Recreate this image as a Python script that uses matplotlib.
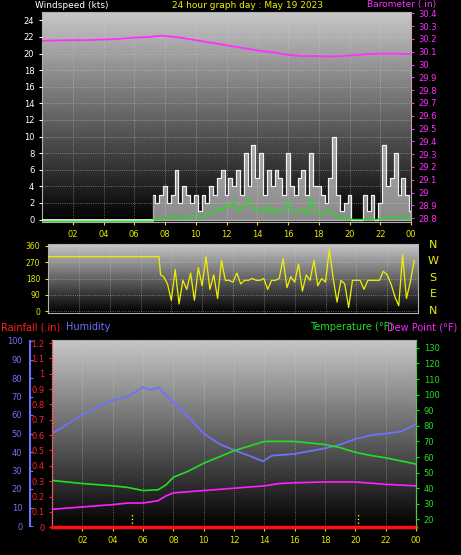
import numpy as np
import matplotlib
matplotlib.use("Agg")
import matplotlib.pyplot as plt

W, H = 461, 555
# ---------- data ----------
baro_t = [0, 1, 2, 3, 4, 5, 6, 7, 7.8, 9, 10, 11, 12, 13, 14, 15, 16, 17, 18, 19, 20, 21, 22, 23, 24]
baro_v = [30.185, 30.188, 30.19, 30.19, 30.195, 30.2, 30.21, 30.215, 30.225, 30.21, 30.19, 30.17,
          30.15, 30.13, 30.11, 30.095, 30.075, 30.065, 30.065, 30.062, 30.07, 30.08, 30.085, 30.085, 30.08]

wind_t = [7.25 + 0.25 * i for i in range(68)]
gust_v = [3, 2, 3, 4, 2, 3, 6, 2, 4, 3, 2, 3, 1, 3, 2, 4, 3, 5, 6, 3, 5, 4, 6, 3, 8, 4, 9, 5, 8, 3,
          6, 4, 6, 5, 3, 8, 4, 3, 5, 6, 3, 8, 4, 4, 3, 2, 5, 10, 3, 1, 2, 3, 0, 0, 0, 3, 1, 3, 0, 2,
          9, 4, 5, 8, 3, 5, 3, 1]
avg_v = [0, 0, 0, 0.2, 0.3, 0.3, 0.4, 0.1, 0.2, 0.1, 0.5, 0.4, 0.2, 0.3, 0.8, 0.5, 1.2, 1.5, 1.0, 1.8,
         1.6, 2.2, 1.0, 1.4, 1.8, 2.5, 1.2, 1.4, 1.0, 0.8, 1.6, 0.7, 1.2, 0.9, 1.1, 2.2, 1.0, 0.8, 1.0, 1.2,
         0.6, 2.6, 1.0, 0.8, 0.5, 1.2, 0.9, 0.8, 0.4, 0.1, 0.3, 0.1, 0, 0, 0, 0, 0, 0, 0, 0.1,
         0.2, 0.3, 0.4, 0.3, 0.2, 0.3, 0.2, 0.1]

dir_t = [0, 7.2, 7.3] + [7.5 + 0.25 * i for i in range(66)]
dir_v = [300, 300, 200, 190, 150, 60, 230, 40, 170, 120, 210, 60, 240, 140, 300, 120, 200, 70, 280, 170,
         170, 160, 210, 150, 170, 170, 180, 170, 170, 180, 120, 170, 170, 180, 290, 130, 190, 160, 260, 110,
         200, 170, 280, 140, 180, 160, 340, 180, 50, 170, 150, 20, 170, 170, 170, 120, 170, 170, 170, 170,
         220, 200, 150, 80, 30, 310, 70, 160, 280]

hum_t = [0, 2, 4, 5, 6, 6.5, 7, 8, 9, 10, 11, 12, 13, 13.9, 14.5, 16, 18, 19, 20, 21, 22, 23, 24]
hum_v = [50, 60, 68, 70, 75, 73.5, 75, 67, 59, 50, 44.5, 41, 38, 35, 38, 39, 42, 44, 47, 49, 50, 51, 55]

temp_t = [0, 2, 4, 5, 6, 7, 7.5, 8, 9, 10, 11, 12, 13, 14, 15, 16, 17, 18, 19, 20, 21, 22, 23, 24]
temp_v = [45, 43, 41.5, 40.5, 38.5, 39, 42, 47, 51, 56, 60, 64, 67, 70, 70, 70, 69, 68, 66, 63, 61, 59.5, 57.5, 55.5]

dew_t = [0, 2, 4, 5, 6, 7, 7.5, 8, 10, 12, 14, 15, 16, 18, 20, 22, 24]
dew_v = [26.5, 28, 29.5, 30.5, 30.5, 32, 35, 37, 38.5, 40, 41.5, 43, 43.5, 44, 44, 42.5, 41.5]

rain_t = [0, 24]
rain_v = [0, 0]

hour_ticks = [2, 4, 6, 8, 10, 12, 14, 16, 18, 20, 22, 24]
hour_labels = ["02", "04", "06", "08", "10", "12", "14", "16", "18", "20", "22", "00"]

# ---------- figure ----------
fig = plt.figure(figsize=(W / 100, H / 100), dpi=100, facecolor="black")
FS = 6

def px(x0, y0, x1, y1):
    return [x0 / W, 1 - y1 / H, (x1 - x0) / W, (y1 - y0) / H]

grad = np.linspace(0.78, 0.0, 256).reshape(-1, 1)

def style(ax, ylim):
    ax.set_facecolor("black")
    ax.imshow(grad, cmap="gray", vmin=0, vmax=1, aspect="auto",
              extent=[0, 24, ylim[0], ylim[1]], zorder=0)
    ax.set_xlim(0, 24)
    ax.set_ylim(*ylim)
    for s in ax.spines.values():
        s.set_color("#b0b0b0")
    ax.grid(True, color="#d0d0d0", ls=":", lw=0.6, alpha=0.6)
    ax.set_axisbelow(False)

# panel 1
ax1 = fig.add_axes(px(42, 12, 411, 222))
style(ax1, (-0.3, 25.0))
ax1.set_yticks(range(0, 25, 2))
ax1.tick_params(axis="y", colors="white", labelsize=FS, length=2)
ax1.set_xticks(hour_ticks)
ax1.set_xticklabels(hour_labels)
ax1.tick_params(axis="x", colors="#e8e800", labelsize=FS, length=2)
ax1.fill_between(wind_t, gust_v, step="mid", color="#e8e8e8", alpha=0.6, zorder=2)
ax1.step(wind_t, gust_v, where="mid", color="white", lw=0.6, zorder=3)
ax1.plot([0, 7.25], [0, 0], color="white", lw=1.2, zorder=3)
ax1.plot([0, 7.25], [-0.2, -0.2], color="#20e020", lw=1, zorder=3)
ax1.plot(wind_t, avg_v, color="#20e020", lw=1, zorder=4)
ax1b = ax1.twinx()
ax1b.set_ylim(28.77, 30.41)
ax1b.set_yticks(np.round(np.arange(28.8, 30.41, 0.1), 1))
ax1b.set_yticklabels([f"{v:g}" for v in np.round(np.arange(28.8, 30.41, 0.1), 1)])
ax1b.tick_params(axis="y", colors="#ff30ff", labelsize=FS, length=2)
ax1b.plot(baro_t, baro_v, color="#ff30ff", lw=1.3)
for s in ax1b.spines.values():
    s.set_visible(False)
fig.text(35 / W, 1 - 5 / H, "Windspeed (kts)", color="white", fontsize=6.5, va="center")
fig.text(247 / W, 1 - 5 / H, "24 hour graph day : May 19 2023", color="#f0f000", fontsize=6.5, va="center", ha="center")
fig.text(436 / W, 1 - 5 / H, "Barometer (.in)", color="#ff30ff", fontsize=6.5, va="center", ha="right")

# panel 2
ax2 = fig.add_axes(px(48, 244, 418, 313))
style(ax2, (-10, 370))
ax2.set_yticks([0, 90, 180, 270, 360])
ax2.tick_params(axis="y", colors="#e8e800", labelsize=5.5, length=2)
ax2.set_xticks(hour_ticks)
ax2.tick_params(axis="x", labelbottom=False, length=0)
ax2.plot(dir_t, dir_v, color="#f0f000", lw=0.9, zorder=3)
for lab, y in zip(["N", "W", "S", "E", "N"], [245, 261, 278, 294, 311]):
    fig.text(433 / W, 1 - y / H, lab, color="#f0f000", fontsize=8, ha="center", va="center")

# panel 3
ax3 = fig.add_axes(px(52, 340, 416, 528))
style(ax3, (0, 102))
ax3.set_yticks([])
ax3.set_xticks(hour_ticks)
ax3.set_xticklabels(hour_labels)
ax3.tick_params(axis="x", colors="#e8e800", labelsize=FS, length=2)
for t in [5.3, 20.2]:
    ax3.plot([t, t], [0.5, 8], color="#f0f000", ls=":", lw=1, zorder=3)

axh = fig.add_axes(px(30, 341, 30.01, 526))
axh.set_ylim(0, 100)
axh.set_yticks(range(0, 101, 10))
axh.set_xticks([])
for k, s in axh.spines.items():
    s.set_visible(k == "right")
axh.spines["right"].set_color("#7070ff")
axh.spines["right"].set_linewidth(1.5)
axh.patch.set_alpha(0)
axh.tick_params(axis="y", colors="#7070ff", labelsize=FS, length=2,
                labelleft=True, labelright=False, left=False, right=True)

axhum = fig.add_axes(px(52, 341, 416, 526))
axhum.patch.set_alpha(0)
axhum.set_xlim(0, 24)
axhum.set_ylim(0, 100)
axhum.axis("off")
axhum.plot(hum_t, hum_v, color="#7070ff", lw=1.3, zorder=4)

axr = fig.add_axes(px(52, 340, 416, 528))
axr.patch.set_alpha(0)
axr.set_xlim(0, 24)
axr.set_ylim(-0.005, 1.22)
axr.set_yticks(np.round(np.arange(0, 1.21, 0.1), 1))
axr.set_yticklabels([f"{v:g}" for v in np.round(np.arange(0, 1.21, 0.1), 1)])
axr.tick_params(axis="y", colors="#ff2020", labelsize=FS, length=2)
axr.set_xticks([])
for k, s in axr.spines.items():
    s.set_visible(k == "left")
axr.spines["left"].set_color("#ff4040")
axr.spines["left"].set_linestyle(":")
axr.plot(rain_t, rain_v, color="#ff1010", lw=2.5, zorder=5, clip_on=False)

axt = axr.twinx()
axt.set_ylim(14.5, 135)
axt.set_yticks(range(20, 131, 10))
axt.tick_params(axis="y", colors="#20e020", labelsize=FS, length=2)
for k, s in axt.spines.items():
    s.set_visible(k == "right")
axt.spines["right"].set_color("#20e020")
axt.spines["right"].set_linestyle(":")
axt.plot(temp_t, temp_v, color="#20e020", lw=1.2)
axt.plot(dew_t, dew_v, color="#ff20ff", lw=1.2)

fig.text(1 / W, 1 - 327 / H, "Rainfall (.in)", color="#ff2020", fontsize=7, va="center")
fig.text(66 / W, 1 - 327 / H, "Humidity", color="#7070ff", fontsize=7, va="center")
fig.text(310 / W, 1 - 327 / H, "Temperature (°F)", color="#20e020", fontsize=7, va="center")
fig.text(457 / W, 1 - 327 / H, "Dew Point (°F)", color="#ff20ff", fontsize=7, va="center", ha="right")

fig.savefig("out.png", dpi=100, facecolor="black")
